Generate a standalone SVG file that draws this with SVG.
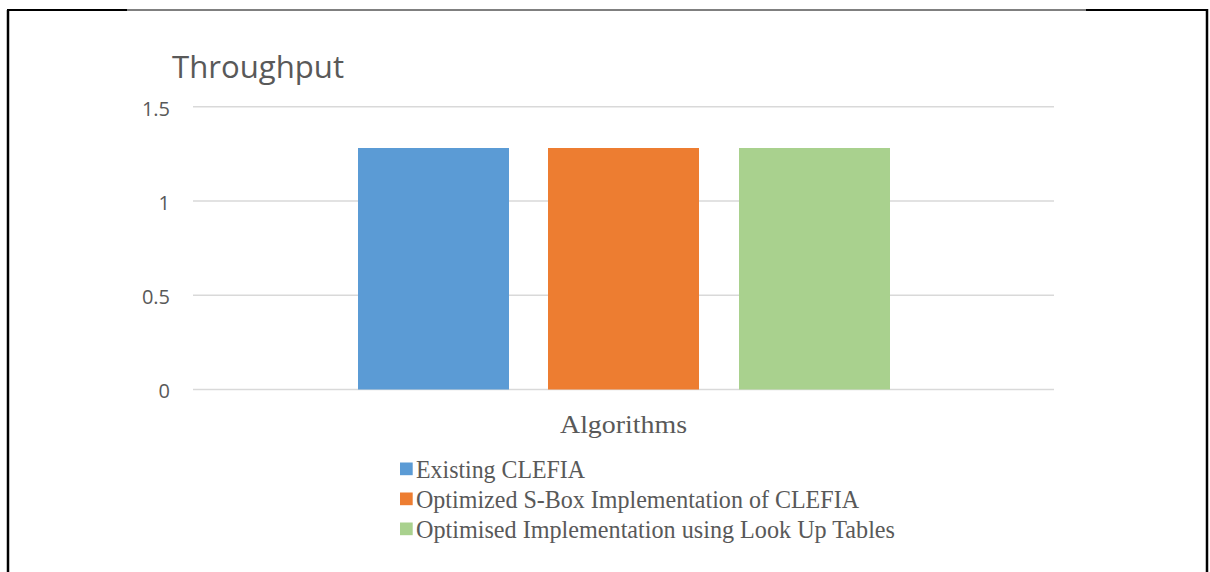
<svg xmlns="http://www.w3.org/2000/svg" width="1210" height="572" viewBox="0 0 1210 572">
  <style>
    .frame { stroke: #000; fill: none; }
    .grid { stroke: #d9d9d9; stroke-width: 1.5; }
    .tick { font-family: "Open Sans", "Liberation Sans", sans-serif; font-size: 20px; fill: #595959; text-anchor: end; }
    .title { font-family: "Open Sans", "Liberation Sans", sans-serif; font-size: 31px; fill: #595959; }
    .axis { font-family: "Liberation Serif", serif; font-size: 25px; fill: #595959; }
    .legend { font-family: "Liberation Serif", serif; font-size: 25px; fill: #595959; }
  </style>

  <!-- outer frame -->
  <g id="frame">
    <line class="frame" x1="8" y1="10" x2="8" y2="572" stroke-width="2.5"/>
    <line class="frame" x1="7" y1="10" x2="127" y2="10" stroke-width="2"/>
    <line class="frame" x1="127" y1="10" x2="1086" y2="10" stroke-width="1"/>
    <line class="frame" x1="1086" y1="10" x2="1208" y2="10" stroke-width="2"/>
    <line class="frame" x1="1207" y1="9" x2="1207" y2="572" stroke-width="2.5"/>
  </g>

  <text class="title" x="172" y="78" textLength="172" lengthAdjust="spacingAndGlyphs">Throughput</text>

  <!-- value axis and gridlines -->
  <g id="gridlines">
    <line class="grid" x1="193" y1="106.8" x2="1054" y2="106.8"/>
    <line class="grid" x1="193" y1="201" x2="1054" y2="201"/>
    <line class="grid" x1="193" y1="295.2" x2="1054" y2="295.2"/>
    <line class="grid" x1="193" y1="389.5" x2="1054" y2="389.5"/>
  </g>
  <g id="ticks">
    <text class="tick" x="170" y="116">1.5</text>
    <text class="tick" x="170" y="210">1</text>
    <text class="tick" x="170" y="304">0.5</text>
    <text class="tick" x="170" y="398">0</text>
  </g>

  <!-- bars -->
  <g id="bar-existing"><rect x="358" y="148" width="151" height="241.5" fill="#5B9BD5"/></g>
  <g id="bar-sbox"><rect x="548" y="148" width="151" height="241.5" fill="#ED7D31"/></g>
  <g id="bar-lut"><rect x="739" y="148" width="151" height="241.5" fill="#A9D18E"/></g>

  <text class="axis" x="560" y="433" textLength="127" lengthAdjust="spacingAndGlyphs">Algorithms</text>

  <!-- legend -->
  <g id="legend">
    <rect x="400" y="462.5" width="12.7" height="12.7" fill="#5B9BD5"/>
    <text class="legend" x="416" y="478" textLength="169" lengthAdjust="spacingAndGlyphs">Existing CLEFIA</text>
    <rect x="400" y="492.5" width="12.7" height="12.7" fill="#ED7D31"/>
    <text class="legend" x="416" y="508" textLength="443" lengthAdjust="spacingAndGlyphs">Optimized S-Box Implementation of CLEFIA</text>
    <rect x="400" y="522.5" width="12.7" height="12.7" fill="#A9D18E"/>
    <text class="legend" x="416" y="538" textLength="479" lengthAdjust="spacingAndGlyphs">Optimised Implementation using Look Up Tables</text>
  </g>
</svg>
